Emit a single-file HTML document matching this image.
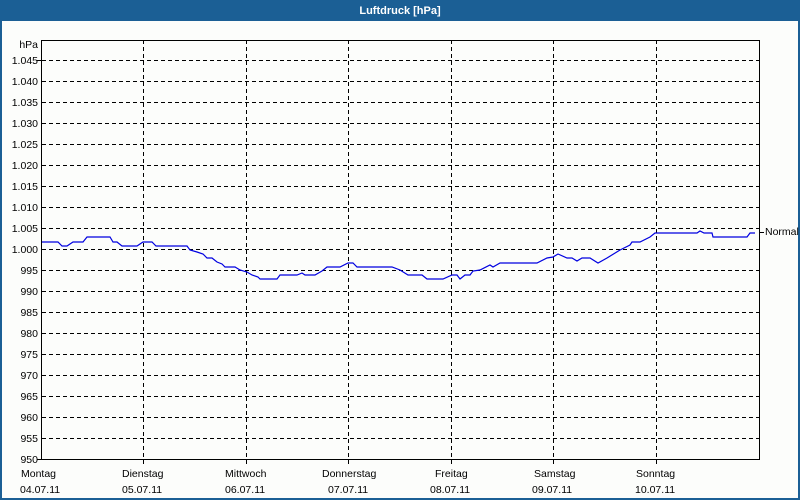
<!DOCTYPE html>
<html><head><meta charset="utf-8"><style>
html,body{margin:0;padding:0;background:#fff}
svg{display:block;font-family:"Liberation Sans",sans-serif}
</style></head><body>
<svg width="800" height="500" xmlns="http://www.w3.org/2000/svg">
<rect x="0" y="0" width="800" height="500" fill="#1b5f95"/>
<rect x="2" y="21" width="796" height="477" fill="#fcfdfb"/>
<text x="400" y="14" fill="#fff" font-size="11" font-weight="bold" text-anchor="middle">Luftdruck [hPa]</text>
<g stroke="#000" stroke-width="1" stroke-dasharray="4,3" shape-rendering="crispEdges">
<line x1="42" x2="760" y1="60.5" y2="60.5"/><line x1="42" x2="760" y1="81.5" y2="81.5"/>
<line x1="42" x2="760" y1="102.5" y2="102.5"/><line x1="42" x2="760" y1="123.5" y2="123.5"/>
<line x1="42" x2="760" y1="144.5" y2="144.5"/><line x1="42" x2="760" y1="165.5" y2="165.5"/>
<line x1="42" x2="760" y1="186.5" y2="186.5"/><line x1="42" x2="760" y1="207.5" y2="207.5"/>
<line x1="42" x2="760" y1="228.5" y2="228.5"/><line x1="42" x2="760" y1="249.5" y2="249.5"/>
<line x1="42" x2="760" y1="270.5" y2="270.5"/><line x1="42" x2="760" y1="291.5" y2="291.5"/>
<line x1="42" x2="760" y1="312.5" y2="312.5"/><line x1="42" x2="760" y1="333.5" y2="333.5"/>
<line x1="42" x2="760" y1="354.5" y2="354.5"/><line x1="42" x2="760" y1="375.5" y2="375.5"/>
<line x1="42" x2="760" y1="396.5" y2="396.5"/><line x1="42" x2="760" y1="417.5" y2="417.5"/>
<line x1="42" x2="760" y1="438.5" y2="438.5"/>
<line x1="143.5" x2="143.5" y1="40" y2="466"/><line x1="246.5" x2="246.5" y1="40" y2="466"/>
<line x1="348.5" x2="348.5" y1="40" y2="466"/><line x1="451.5" x2="451.5" y1="40" y2="466"/>
<line x1="553.5" x2="553.5" y1="40" y2="466"/><line x1="656.5" x2="656.5" y1="40" y2="466"/>
</g>
<g stroke="#000" stroke-width="1" shape-rendering="crispEdges" fill="none">
<rect x="41.5" y="40.5" width="718" height="419"/>
<line x1="37" x2="42" y1="60.5" y2="60.5"/><line x1="37" x2="42" y1="459.5" y2="459.5"/>
<line x1="760" x2="764" y1="232.5" y2="232.5"/>
</g>
<g font-size="10.5" fill="#000" text-anchor="end">
<text x="38" y="48">hPa</text>
<text x="38" y="64">1.045</text><text x="38" y="85">1.040</text><text x="38" y="106">1.035</text>
<text x="38" y="127">1.030</text><text x="38" y="148">1.025</text><text x="38" y="169">1.020</text>
<text x="38" y="190">1.015</text><text x="38" y="211">1.010</text><text x="38" y="232">1.005</text>
<text x="38" y="253">1.000</text><text x="38" y="274">995</text><text x="38" y="295">990</text>
<text x="38" y="316">985</text><text x="38" y="337">980</text><text x="38" y="358">975</text>
<text x="38" y="379">970</text><text x="38" y="400">965</text><text x="38" y="421">960</text>
<text x="38" y="442">955</text><text x="38" y="463">950</text>
</g>
<g font-size="10.5" fill="#000">
<text x="21" y="477">Montag</text><text x="20" y="493">04.07.11</text>
<text x="122" y="477">Dienstag</text><text x="122" y="493">05.07.11</text>
<text x="225" y="477">Mittwoch</text><text x="225" y="493">06.07.11</text>
<text x="322" y="477">Donnerstag</text><text x="328" y="493">07.07.11</text>
<text x="435" y="477">Freitag</text><text x="430" y="493">08.07.11</text>
<text x="534" y="477">Samstag</text><text x="532" y="493">09.07.11</text>
<text x="636" y="477">Sonntag</text><text x="635" y="493">10.07.11</text>
<text x="765" y="235">Normal</text>
</g>
<polyline fill="none" stroke="#0000e0" stroke-width="1.2" points="42,242 58,242 62,246 67,246 73,242 83,242 87,237 110,237 113,242 117,242 122,246 137,246 143,242 152,242 156,246 187,246 190,250 197,252 203,254 207,258 212,258 217,262 222,264 225,267 235,267 240,270 247,272 252,275 258,277 260,279 277,279 280,275 297,275 302,273 305,275 315,275 322,271 327,267 340,267 348,263 353,263 357,267 392,267 400,270 408,275 422,275 427,279 443,279 452,275 457,275 460,279 465,275 470,275 473,271 480,270 490,265 493,267 500,263 537,263 547,258 553,257 558,254 567,258 572,258 577,261 582,258 590,258 598,263 607,258 620,250 630,245 632,242 640,242 650,237 655,233 697,233 700,231 704,233 712,233 713,237 747,237 750,233 755,233"/>
</svg>
</body></html>
